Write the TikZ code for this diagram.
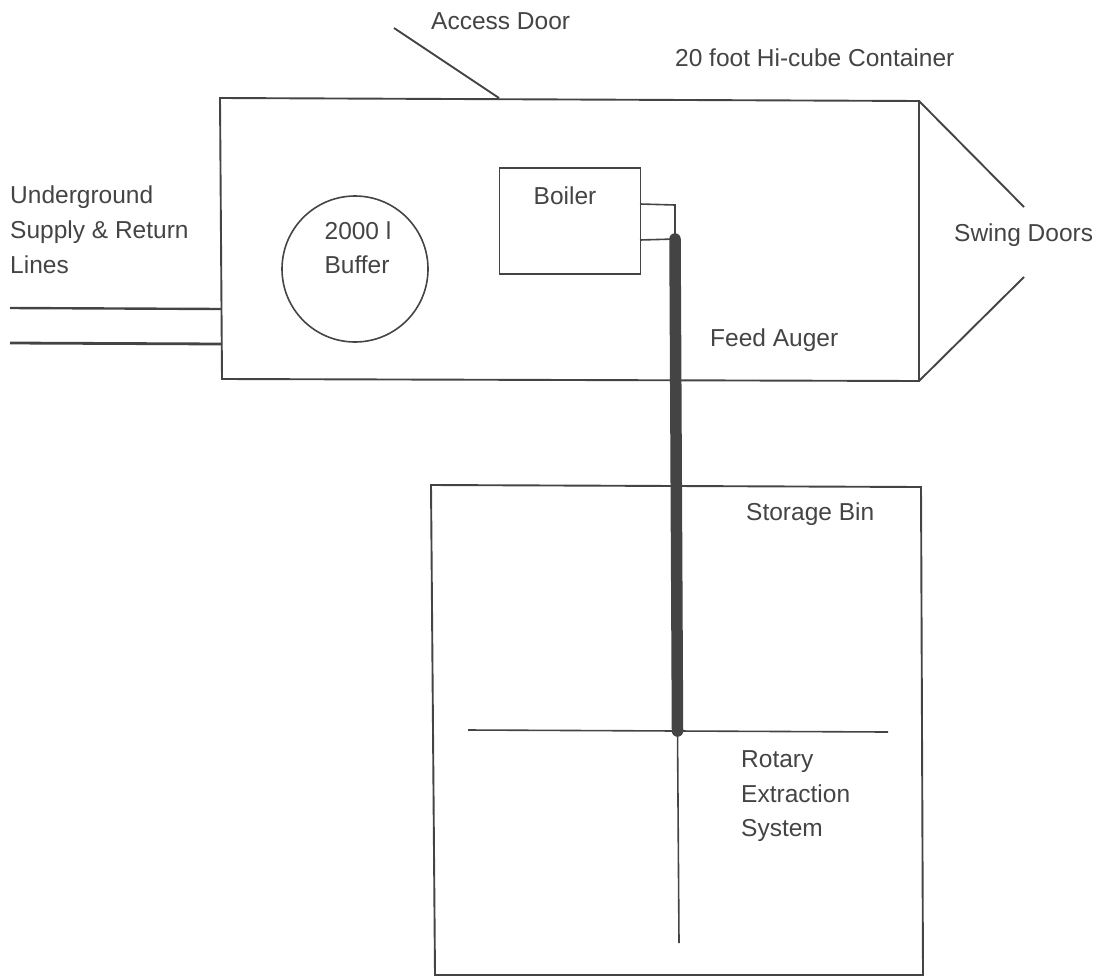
\documentclass[tikz,border=0pt]{standalone}
\usepackage{fontspec}
\setmainfont{Liberation Sans}
\usetikzlibrary{calc,positioning}
\definecolor{inkgray}{HTML}{444444}
\begin{document}
\begin{tikzpicture}[
  x=1pt, y=-1pt,
  label/.style={font=\fontsize{24.5pt}{29pt}\selectfont, text=inkgray, inner sep=0pt, text height=17pt, text depth=5pt},
  wall/.style={draw=inkgray, line width=1.9pt},
  thin wall/.style={draw=inkgray, line width=1.6pt},
  auger/.style={draw=inkgray, line width=11.5pt, line cap=round}
]
  \useasboundingbox (0,0) rectangle (1099,977);

  % Container
  \coordinate (cont_nw) at (220,98);
  \coordinate (cont_ne) at (919,101);
  \coordinate (cont_se) at (919,381);
  \coordinate (cont_sw) at (222,379);
  \draw[wall] (cont_nw) -- (cont_ne) -- (cont_se) -- (cont_sw) -- cycle;

  % Access door
  \coordinate (door_end) at (394,28);
  \coordinate (door_hinge) at (499,98);
  \draw[wall] (door_end) -- (door_hinge);
  \node[label, anchor=west] (door_text) at (431,23) {Access Door};
  \node[label, anchor=west] (cont_text) at (675,60) {20 foot Hi-cube Container};

  % Swing doors
  \coordinate (swing_a) at (1024,207);
  \coordinate (swing_b) at (1024,277);
  \draw[wall] (cont_ne) -- (swing_a);
  \draw[wall] (cont_se) -- (swing_b);
  \node[label, anchor=west] (swing_text) at (954,235) {Swing Doors};

  % Supply and return lines
  \coordinate (line_a) at (10,308);
  \coordinate (line_b) at (10,343);
  \coordinate (line_a2) at (221,309);
  \coordinate (line_b2) at (222,344);
  \draw[wall, line width=2.4pt] (line_a) -- (line_a2);
  \draw[wall, line width=2.8pt] (line_b) -- (line_b2);
  \node[label, anchor=west] (lines_a) at (10,197) {Underground};
  \node[label, anchor=west] (lines_b) at (10,232) {Supply \& Return};
  \node[label, anchor=west] (lines_c) at (10,267) {Lines};

  % Buffer
  \node[circle, thin wall, minimum size=146pt, inner sep=0pt] (buffer) at (355,269) {};
  \node[label] (buffer_a) at (358,233) {2000 l};
  \node[label] (buffer_b) at (357,267) {Buffer};

  % Boiler
  \node[rectangle, thin wall, minimum width=141pt, minimum height=106pt, inner sep=0pt] (boiler) at (570,221) {};
  \node[label] (boiler_text) at (565,198) {Boiler};
  \coordinate (hop_a) at (640,204);
  \coordinate (hop_b) at (675,205);
  \coordinate (hop_c) at (640,240);
  \coordinate (auger_top) at (675,239);
  \draw[thin wall] (hop_a) -- (hop_b) -- (auger_top) -- (hop_c);

  % Feed auger
  \coordinate (auger_end) at (677.5,731);
  \node[label, anchor=west] (auger_text) at (710,340) {Feed Auger};

  % Storage bin
  \coordinate (bin_nw) at (431,485);
  \coordinate (bin_ne) at (921,487);
  \coordinate (bin_se) at (923,975);
  \coordinate (bin_sw) at (435,975);
  \draw[wall] (bin_nw) -- (bin_ne) -- (bin_se) -- (bin_sw) -- cycle;
  \node[label, anchor=west] (bin_text) at (746,514) {Storage Bin};

  % Rotary extraction
  \coordinate (arm_a) at (468,730);
  \coordinate (arm_b) at (888,732);
  \coordinate (shaft_end) at (679,943);
  \draw[thin wall] (arm_a) -- (arm_b);
  \draw[thin wall] (auger_end) -- (shaft_end);
  \draw[auger] (auger_top) -- (auger_end);
  \node[label, anchor=west] (rot_a) at (741,761) {Rotary};
  \node[label, anchor=west] (rot_b) at (741,796) {Extraction};
  \node[label, anchor=west] (rot_c) at (741,830) {System};
\end{tikzpicture}
\end{document}
